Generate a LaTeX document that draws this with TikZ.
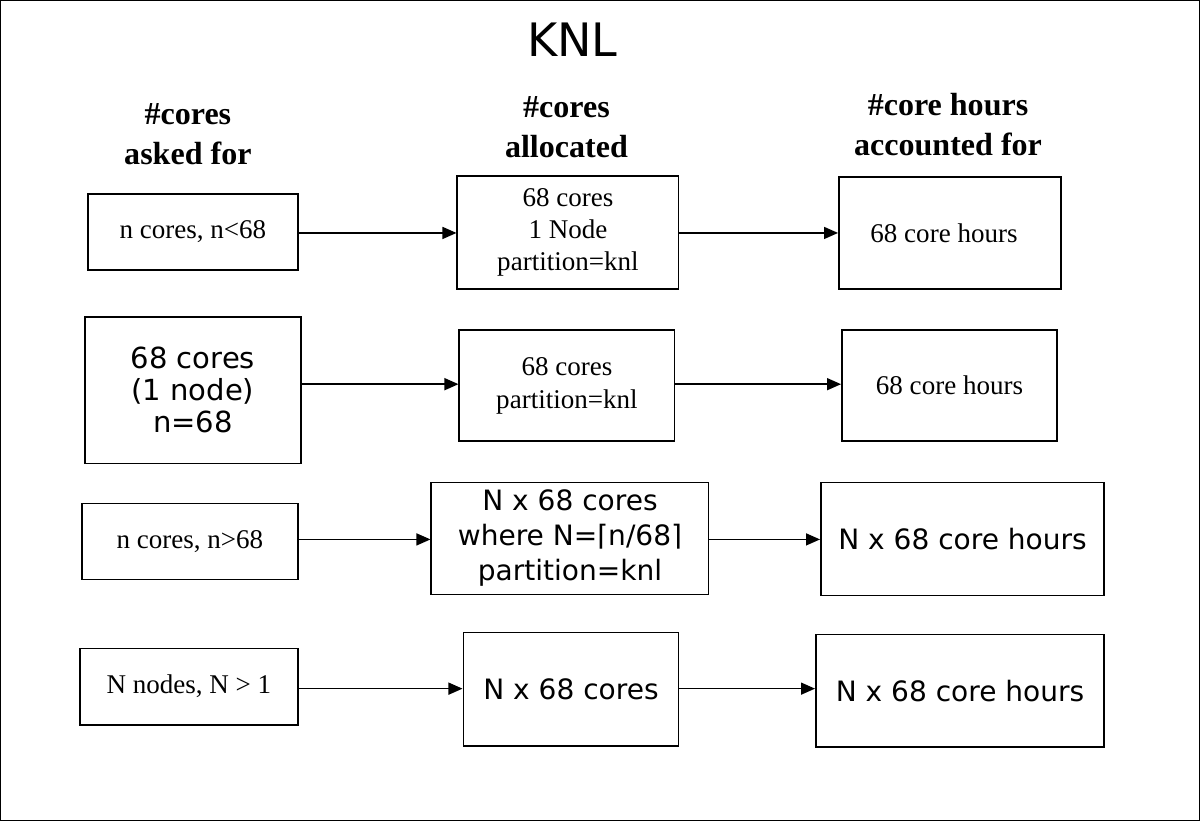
\documentclass[tikz,border=0pt]{standalone}
\usepackage{fontspec}
\setmainfont{Liberation Serif}
\newfontfamily\sansf{DejaVu Sans}
\usetikzlibrary{arrows.meta}
\begin{document}
\begin{tikzpicture}[x=1pt,y=-1pt,
  bx/.style={draw,line width=1.6pt,inner sep=0pt,align=center},
  sr/.style={font=\fontsize{27}{30}\selectfont},
  ss/.style={font=\sansf\fontsize{28}{32}\selectfont},
  hd/.style={font=\bfseries\fontsize{32}{40}\selectfont,align=center},
  ar/.style={-{Triangle[length=14pt,width=12pt]},line width=1.4pt}]
\draw[line width=1.2pt,fill=white] (1,1) rectangle (1198,820);
\node[font=\sansf\fontsize{46}{50}\selectfont] (t) at (572,40) {KNL};
\node[hd] (h1) at (188,134) {\#cores\\asked for};
\node[hd] (h2) at (566,127) {\#cores\\allocated};
\node[hd] (h3) at (947,125) {\#core hours\\accounted for};
% row 1
\node[bx,sr,minimum width=210,minimum height=76] (a1) at (193,232) {n cores, n<68};
\node[bx,sr,minimum width=221,minimum height=113,font=\fontsize{27}{32}\selectfont] (b1) at (567.5,232.5) {68 cores\\1 Node\\partition=knl};
\node[bx,sr,minimum width=222,minimum height=112] (c1) at (949,233) {\hspace*{-12pt}68 core hours};
% row 2
\node[bx,ss,minimum width=216,minimum height=146,font=\sansf\fontsize{29}{32}\selectfont] (a2) at (193,390) {68 cores\\(1 node)\\n=68};
\node[bx,sr,minimum width=215,minimum height=111,font=\fontsize{27}{33}\selectfont] (b2) at (566.5,385.5) {68 cores\\partition=knl};
\node[bx,sr,minimum width=215,minimum height=111] (c2) at (948.5,385.5) {68 core hours};
% row 3
\node[bx,sr,minimum width=216,minimum height=76] (a3) at (190,541) {n cores, n>68};
\node[bx,ss,minimum width=277,minimum height=112,font=\sansf\fontsize{28}{35}\selectfont] (b3) at (569.5,538) {N x 68 cores\\where N=⌈n/68⌉\\partition=knl};
\node[bx,ss,minimum width=283,minimum height=113] (c3) at (961.5,538.5) {N x 68 core hours};
% row 4
\node[bx,sr,minimum width=218,minimum height=76] (a4) at (189,686) {N nodes, N > 1};
\node[bx,ss,minimum width=215,minimum height=113] (b4) at (570.5,688.5) {N x 68 cores};
\node[bx,ss,minimum width=288,minimum height=112] (c4) at (959,690) {N x 68 core hours};
\foreach \r/\y in {1/233,2/384,3/539,4/688}{
  \draw[ar] (a\r.east |- 0,\y) -- (b\r.west |- 0,\y);
  \draw[ar] (b\r.east |- 0,\y) -- (c\r.west |- 0,\y);
}
\end{tikzpicture}
\end{document}
